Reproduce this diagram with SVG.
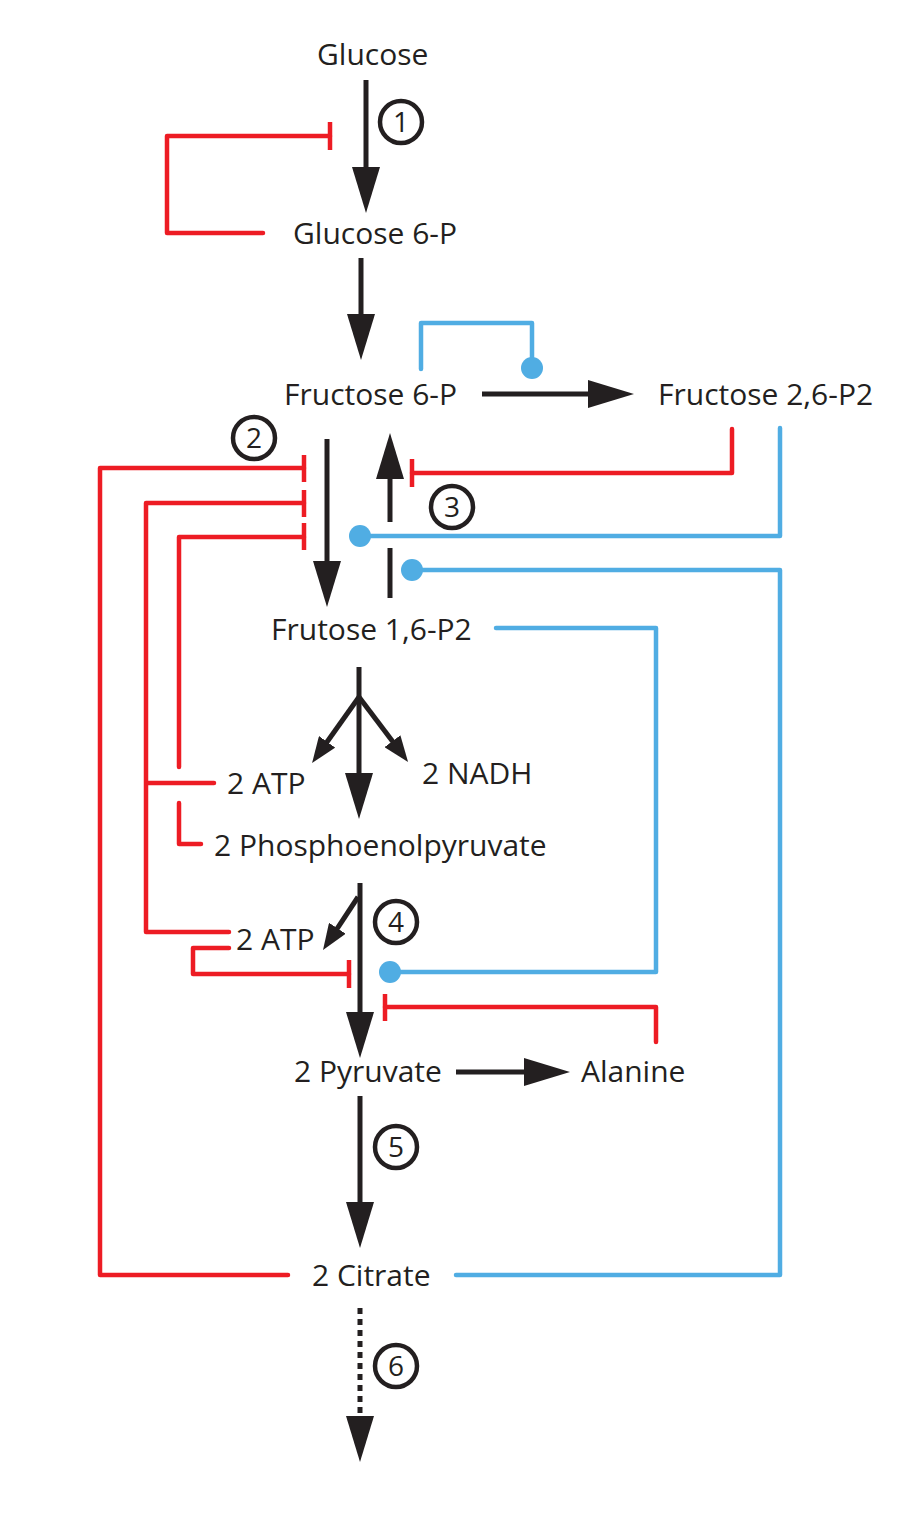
<svg xmlns="http://www.w3.org/2000/svg" width="902" height="1516" viewBox="0 0 902 1516">
<style>
.lbl{font-family:"Open Sans","Liberation Sans",sans-serif;font-size:30px;fill:#231f20}
.num{font-family:"Open Sans","Liberation Sans",sans-serif;font-size:28px;fill:#231f20;text-anchor:middle}
.ring{fill:none;stroke:#231f20;stroke-width:4.5}
.blk{fill:none;stroke:#231f20;stroke-width:5}
.red{fill:none;stroke:#ed1c24;stroke-width:4.5;stroke-linecap:round;stroke-linejoin:round}
.bar{fill:none;stroke:#ed1c24;stroke-width:4.5}
.blue{fill:none;stroke:#50ade3;stroke-width:4.5;stroke-linecap:round;stroke-linejoin:round}
.dot{fill:#50ade3}
</style>
<defs>
<marker id="arr" markerUnits="userSpaceOnUse" viewBox="0 0 46 28" markerWidth="46" markerHeight="28" refX="4" refY="14" orient="auto"><path d="M0,0 L46,14 L0,28 Z" fill="#231f20"/></marker>
<marker id="arrS" markerUnits="userSpaceOnUse" viewBox="0 0 26 20" markerWidth="26" markerHeight="20" refX="3" refY="10" orient="auto"><path d="M0,0 L26,10 L0,20 Z" fill="#231f20"/></marker>
</defs>
<g id="connectors">
<path class="blk" d="M366,80 V171" marker-end="url(#arr)"/>
<path class="blk" d="M361,258 V318" marker-end="url(#arr)"/>
<path class="blk" d="M482,394 H592" marker-end="url(#arr)"/>
<path class="blk" d="M327,439 V565" marker-end="url(#arr)"/>
<path class="blk" d="M390,522 V475" marker-end="url(#arr)"/>
<path class="blk" d="M390,548 V598"/>
<path class="blk" d="M359,667 V777" marker-end="url(#arr)"/>
<path class="blk" d="M359,697 L325.4,744.3" marker-end="url(#arrS)"/>
<path class="blk" d="M359,697 L394.2,743.6" marker-end="url(#arrS)"/>
<path class="blk" d="M360,883 V1016" marker-end="url(#arr)"/>
<path class="blk" d="M358,897 L335.7,930.8" marker-end="url(#arrS)"/>
<path class="blk" d="M456,1072 H528" marker-end="url(#arr)"/>
<path class="blk" d="M360,1096 V1206" marker-end="url(#arr)"/>
<path class="blk" d="M360,1308 V1420" stroke-dasharray="6 5" marker-end="url(#arr)"/>
<path class="red" d="M330,136 H167 V233 H263"/>
<path class="bar" d="M330,122 V150"/>
<path class="red" d="M732,429 V473 H412"/>
<path class="bar" d="M412,459 V487"/>
<path class="red" d="M288,1275 H100 V468 H304"/>
<path class="bar" d="M304,455 V482"/>
<path class="red" d="M304,503 H146 V932 H229 M146,783 H214"/>
<path class="bar" d="M304,490 V517"/>
<path class="red" d="M304,537 H179 V767 M179,803 V844 H201"/>
<path class="bar" d="M304,523 V550"/>
<path class="red" d="M229,948 H193 V974 H349"/>
<path class="bar" d="M349,960 V988"/>
<path class="red" d="M656,1042 V1007 H385"/>
<path class="bar" d="M385,994 V1021"/>
<path class="blue" d="M421,369 V323 H532 V360"/>
<circle class="dot" cx="532" cy="368" r="11"/>
<path class="blue" d="M780,428 V536 H365"/>
<circle class="dot" cx="360" cy="536" r="11"/>
<path class="blue" d="M456,1275 H780 V570 H418"/>
<circle class="dot" cx="412" cy="570" r="11"/>
<path class="blue" d="M496,628 H656 V972 H396"/>
<circle class="dot" cx="390" cy="972" r="11"/>
</g>
<g id="glucose"><text class="lbl" x="317" y="65">Glucose</text></g>
<g id="glucose6p"><text class="lbl" x="293" y="244">Glucose 6-P</text></g>
<g id="fructose6p"><text class="lbl" x="284" y="405">Fructose 6-P</text></g>
<g id="fructose26p2"><text class="lbl" x="658" y="405">Fructose 2,6-P2</text></g>
<g id="frutose16p2"><text class="lbl" x="271" y="640">Frutose 1,6-P2</text></g>
<g id="atp1"><text class="lbl" x="227" y="794">2 ATP</text></g>
<g id="nadh"><text class="lbl" x="422" y="784">2 NADH</text></g>
<g id="pep"><text class="lbl" x="214" y="856">2 Phosphoenolpyruvate</text></g>
<g id="atp2"><text class="lbl" x="236" y="950">2 ATP</text></g>
<g id="pyruvate"><text class="lbl" x="294" y="1082">2 Pyruvate</text></g>
<g id="alanine"><text class="lbl" x="581" y="1082">Alanine</text></g>
<g id="citrate"><text class="lbl" x="312" y="1286">2 Citrate</text></g>
<g id="step1"><circle class="ring" cx="401" cy="122" r="21"/><text class="num" x="401" y="132">1</text></g>
<g id="step2"><circle class="ring" cx="254" cy="438" r="21"/><text class="num" x="254" y="448">2</text></g>
<g id="step3"><circle class="ring" cx="452" cy="507" r="21"/><text class="num" x="452" y="517">3</text></g>
<g id="step4"><circle class="ring" cx="396" cy="922" r="21"/><text class="num" x="396" y="932">4</text></g>
<g id="step5"><circle class="ring" cx="396" cy="1147" r="21"/><text class="num" x="396" y="1157">5</text></g>
<g id="step6"><circle class="ring" cx="396" cy="1366" r="21"/><text class="num" x="396" y="1376">6</text></g>
</svg>
